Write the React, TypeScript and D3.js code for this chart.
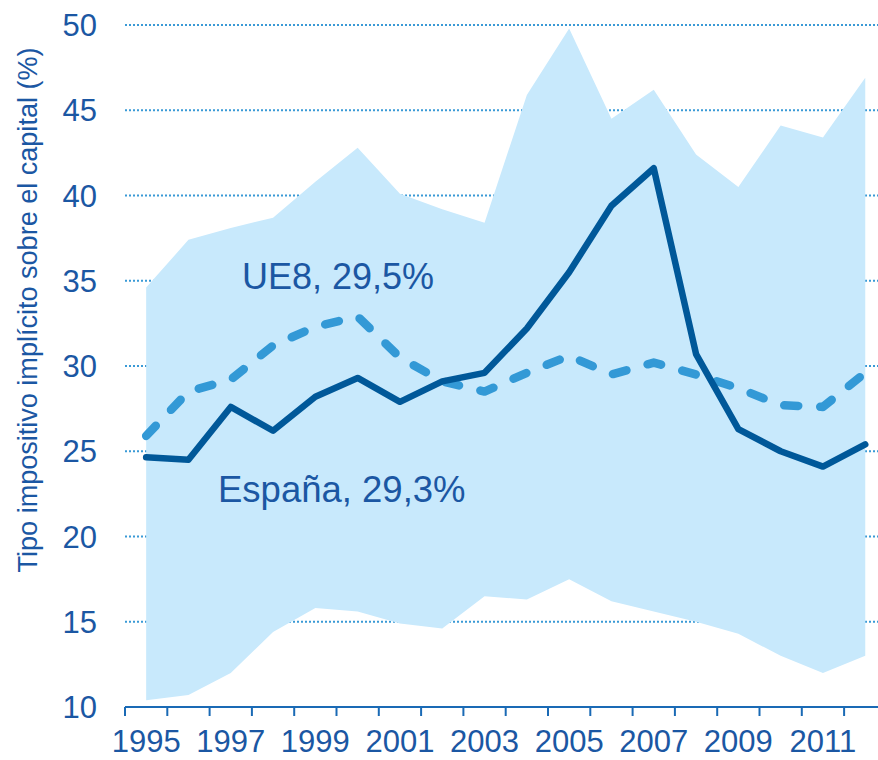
import React from "react";
import * as d3 from "d3";

const years = [1995,1996,1997,1998,1999,2000,2001,2002,2003,2004,2005,2006,2007,2008,2009,2010,2011,2012];
const rangeMax = [34.6,37.4,38.1,38.7,40.8,42.8,40.1,39.2,38.4,45.9,49.8,44.5,46.2,42.4,40.5,44.1,43.4,46.9];
const rangeMin = [10.4,10.7,12.0,14.4,15.8,15.6,14.9,14.6,16.5,16.3,17.5,16.2,15.6,15.0,14.3,13.0,12.0,13.0];
const spain = [24.65,24.5,27.6,26.2,28.2,29.3,27.9,29.1,29.6,32.2,35.5,39.4,41.6,30.7,26.3,25.0,24.1,25.4];
const ue8 = [25.9,28.5,29.2,31.2,32.3,32.9,30.5,29.1,28.5,29.6,30.6,29.5,30.2,29.5,28.7,27.7,27.6,29.6];
const yTicks = [10,15,20,25,30,35,40,45,50];
const xLabelYears = [1995,1997,1999,2001,2003,2005,2007,2009,2011];

export default function App() {
  const W = 878, H = 760;
  const x = d3.scaleBand<number>().domain(years).range([125, 125 + 18 * 42.3]);
  const cx = (yr: number) => (x(yr) as number) + x.bandwidth() / 2;
  const y = d3.scaleLinear().domain([10, 50]).range([707, 25]);
  const textColor = "#1b57a3";
  const font = "Arial, 'Liberation Sans', sans-serif";

  const area = d3.area<number>()
    .x((_, i) => cx(years[i]))
    .y0((_, i) => y(rangeMin[i]))
    .y1((d) => y(d));
  const line = d3.line<number>().x((_, i) => cx(years[i])).y((d) => y(d));

  return (
    <svg width={W} height={H} style={{ position: "absolute", left: 0, top: 0 }}>
      <rect width={W} height={H} fill="#fff" />
      {yTicks.filter(t => t > 10).map(t => (
        <line key={t} x1={125} x2={W} y1={y(t)} y2={y(t)} stroke="#3a9ad6" strokeWidth={2} strokeDasharray="2,2" />
      ))}
      <path d={area(rangeMax) || ""} fill="#c8e9fc" />
      <path d={line(ue8) || ""} fill="none" stroke="#3399d6" strokeWidth={8.5} strokeDasharray="14,22" strokeLinecap="round" strokeLinejoin="round" />
      <path d={line(spain) || ""} fill="none" stroke="#005899" strokeWidth={6.5} strokeLinejoin="round" strokeLinecap="round" />
      <line x1={125} x2={W} y1={707} y2={707} stroke="#1a6ab5" strokeWidth={2} />
      {years.map(yr => (
        <line key={yr} x1={x(yr) as number} x2={x(yr) as number} y1={707} y2={716} stroke="#1a6ab5" strokeWidth={2} />
      ))}
      {yTicks.map(t => (
        <text key={t} x={97} y={y(t)} dy="0.36em" textAnchor="end" fontFamily={font} fontSize={31} fill={textColor}>{t}</text>
      ))}
      {xLabelYears.map(yr => (
        <text key={yr} x={cx(yr)} y={752} textAnchor="middle" fontFamily={font} fontSize={31} fill={textColor}>{yr}</text>
      ))}
      <text transform="translate(37,310) rotate(-90)" textAnchor="middle" fontFamily={font} fontSize={27} textLength={525} lengthAdjust="spacingAndGlyphs" fill={textColor}>Tipo impositivo implícito sobre el capital (%)</text>
      <text x={242} y={289} fontFamily={font} fontSize={36} fill={textColor}>UE8, 29,5%</text>
      <text x={218} y={502} fontFamily={font} fontSize={36.5} fill={textColor}>España, 29,3%</text>
    </svg>
  );
}
